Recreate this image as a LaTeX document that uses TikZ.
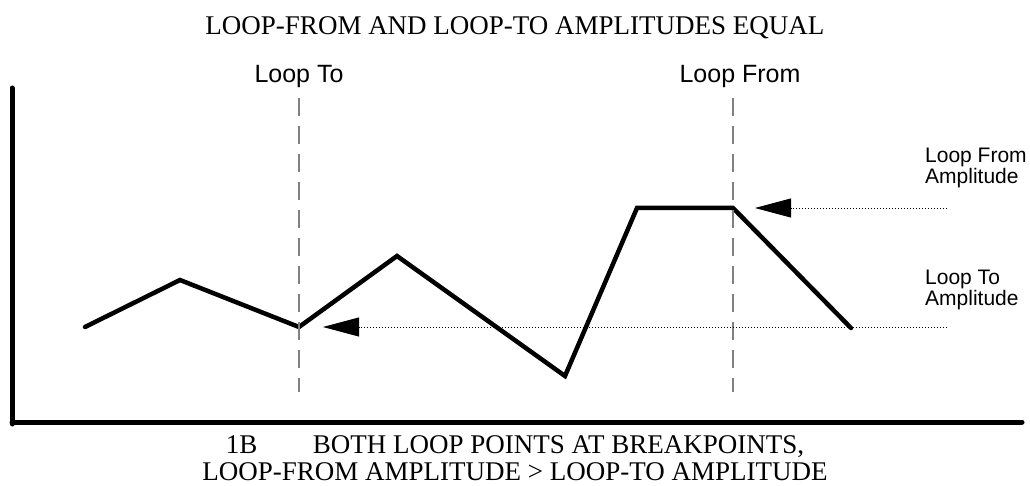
\documentclass[tikz,border=0pt]{standalone}
\usepackage{fontspec}
\setmainfont{Liberation Serif}
\setsansfont{Liberation Sans}
\usetikzlibrary{arrows.meta}

\begin{document}
\begin{tikzpicture}[
  x=1pt,y=-1pt,
  wave/.style={line width=4.5pt,line cap=round,line join=miter},
  axis/.style={line width=5pt,line cap=round},
  looppt/.style={draw=gray,line width=1.5pt,dash pattern=on 18pt off 10pt},
  ampl/.style={line width=0.8pt,dash pattern=on 1pt off 2pt,
               -{Triangle[length=36pt,width=19pt]}},
  lbl/.style={font=\sffamily\fontsize{25}{28}\selectfont,anchor=base},
  amp/.style={font=\sffamily\fontsize{21}{21}\selectfont,align=left,
              anchor=north west,inner sep=0pt},
  txt/.style={font=\fontsize{27}{27}\selectfont,anchor=base,inner sep=0pt},
]
\useasboundingbox (0,0) rectangle (1030,486);

% title and caption
\node[txt] (title) at (515,35) {LOOP-FROM AND LOOP-TO AMPLITUDES EQUAL};
\node[txt] (capa) at (515,453) {1B\hspace{2.05em}BOTH LOOP POINTS AT BREAKPOINTS,};
\node[txt] (capb) at (515,480) {LOOP-FROM AMPLITUDE > LOOP-TO AMPLITUDE};

% axes
\coordinate (ytop) at (12,88);
\coordinate (ybot) at (12,424);
\coordinate (xbeg) at (12,422);
\coordinate (xend) at (1022,422);
\draw[axis] (ytop) -- (ybot);
\draw[axis] (xbeg) -- (xend);

% waveform breakpoints
\coordinate (p1) at (85,327);
\coordinate (p2) at (180,280);
\coordinate (p3) at (299,327);
\coordinate (p4) at (397,256);
\coordinate (p5) at (565,376);
\coordinate (p6) at (637,208);
\coordinate (p7) at (733,208);
\coordinate (p8) at (851,328);
\draw[wave] (p1) -- (p2) -- (p3) -- (p4) -- (p5) -- (p6) -- (p7) -- (p8);

% loop points
\node[lbl] (toname) at (299,83) {Loop To};
\node[lbl] (fromname) at (740,83) {Loop From};
\coordinate (totop) at (299,98);
\coordinate (tobot) at (299,392);
\coordinate (fromtop) at (733,98);
\coordinate (frombot) at (733,392);
\draw[looppt] (totop) -- (tobot);
\draw[looppt] (fromtop) -- (frombot);

% amplitudes
\node[amp] (fromamp) at (925,148) {Loop From\\Amplitude};
\node[amp] (toamp) at (925,270) {Loop To\\Amplitude};
\coordinate (fromtail) at (947,208);
\coordinate (fromtip) at (755,208);
\coordinate (totail) at (947,327);
\coordinate (totip) at (323,327);
\draw[ampl] (fromtail) -- (fromtip);
\draw[ampl] (totail) -- (totip);
\end{tikzpicture}
\end{document}
